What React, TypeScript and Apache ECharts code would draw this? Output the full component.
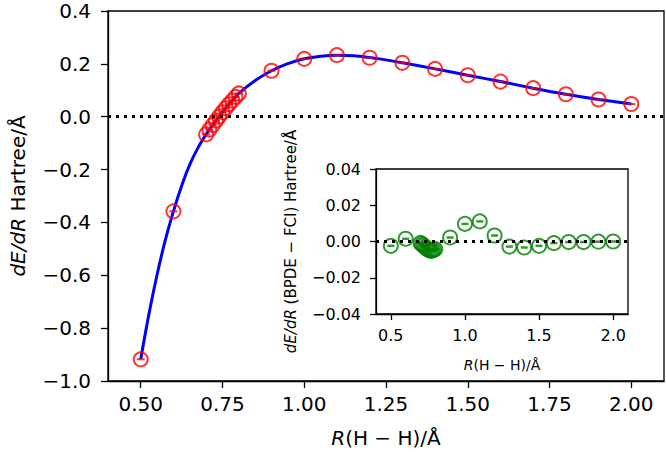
import React, { useEffect, useRef } from "react";
import * as echarts from "echarts";

// Sampled bond lengths R(H-H) / Å
const R = [0.5, 0.6, 0.7, 0.71, 0.72, 0.73, 0.74, 0.75, 0.76, 0.77, 0.78, 0.79, 0.8, 0.9, 1.0, 1.1, 1.2, 1.3, 1.4, 1.5, 1.6, 1.7, 1.8, 1.9, 2.0];
// BPDE dE/dR (Hartree/Å) – red circles
const dEdR = [-0.918, -0.358, -0.067, -0.049, -0.032, -0.015, 0.001, 0.017, 0.032, 0.047, 0.061, 0.075, 0.088, 0.174, 0.219, 0.233, 0.223, 0.204, 0.181, 0.157, 0.133, 0.108, 0.085, 0.065, 0.048];
// BPDE − FCI difference (Hartree/Å) – green circles in inset
const dEdRDiff = [-0.0024, 0.0015, -0.0008, -0.0015, -0.0022, -0.003, -0.0037, -0.0043, -0.0048, -0.0052, -0.005, -0.0046, -0.0042, 0.0022, 0.0097, 0.0111, 0.0033, -0.0028, -0.0033, -0.0024, -0.0009, -0.0003, -0.0003, -0.0001, 0.0];
// FCI reference curve (blue line)
const curveR = [0.5, 0.525, 0.55, 0.575, 0.6, 0.625, 0.65, 0.675, 0.7, 0.72, 0.74, 0.76, 0.78, 0.8, 0.85, 0.9, 0.95, 1.0, 1.05, 1.1, 1.15, 1.2, 1.25, 1.3, 1.4, 1.5, 1.6, 1.7, 1.8, 1.9, 2.0];
const curveV = [-0.918, -0.748, -0.598, -0.468, -0.358, -0.262, -0.181, -0.118, -0.067, -0.032, 0.001, 0.032, 0.061, 0.088, 0.137, 0.174, 0.201, 0.219, 0.229, 0.233, 0.231, 0.224, 0.215, 0.204, 0.181, 0.157, 0.133, 0.108, 0.085, 0.065, 0.048];

const mainXTicks = [0.5, 0.75, 1.0, 1.25, 1.5, 1.75, 2.0];
const mainYTicks = [-1.0, -0.8, -0.6, -0.4, -0.2, 0.0, 0.2, 0.4];
const insetXTicks = [0.5, 1.0, 1.5, 2.0];
const insetYTicks = [-0.04, -0.02, 0.0, 0.02, 0.04];

const FONT = "DejaVu Sans";
const fmt = (v: number, d: number) => {
  const s = Math.abs(v).toFixed(d);
  return (v < -1e-9 ? "\u2212" : "") + s;
};

export default function App() {
  const ref = useRef<HTMLDivElement>(null);
  useEffect(() => {
    if (!ref.current) return;
    const chart = echarts.init(ref.current, undefined, { renderer: "svg" });
    const axisLine = { show: true, onZero: false, lineStyle: { color: "#000", width: 1.3 } };
    const pts = (ys: number[]) => R.map((r, i) => [r, ys[i]]);
    const dotted = {
      silent: true, symbol: "none", label: { show: false },
      lineStyle: { color: "#000", type: [3, 5], width: 3, cap: "butt" },
      data: [{ yAxis: 0 }],
    };
    const option: any = {
      animation: false,
      backgroundColor: "#fff",
      grid: [
        { left: 106, top: 11, width: 558, height: 370, show: true, borderColor: "#000", borderWidth: 1.3, backgroundColor: "transparent" },
        { left: 376, top: 169, width: 252, height: 145, show: true, borderColor: "#000", borderWidth: 1.3, backgroundColor: "#fff" },
      ],
      xAxis: [
        {
          gridIndex: 0, type: "value", min: 0.4, max: 2.1,
          axisLine, splitLine: { show: false },
          axisTick: { show: true, length: 7, customValues: mainXTicks, lineStyle: { color: "#000", width: 1.3 } },
          axisLabel: { customValues: mainXTicks, formatter: (v: number) => fmt(v, 2), fontSize: 20, fontFamily: FONT, color: "#000", margin: 13 },
          name: "{i|R}(H \u2212 H)/Å", nameLocation: "middle", nameGap: 47,
          nameTextStyle: { fontSize: 20, fontFamily: FONT, color: "#000", rich: { i: { fontStyle: "italic", fontSize: 20, fontFamily: FONT, color: "#000" } } },
        },
        {
          gridIndex: 1, type: "value", min: 0.4, max: 2.1,
          axisLine, splitLine: { show: false },
          axisTick: { show: true, length: 6, customValues: insetXTicks, lineStyle: { color: "#000", width: 1.3 } },
          axisLabel: { customValues: insetXTicks, formatter: (v: number) => fmt(v, 1), fontSize: 16, fontFamily: FONT, color: "#000", margin: 13 },
          name: "{i|R}(H \u2212 H)/Å", nameLocation: "middle", nameGap: 44,
          nameTextStyle: { fontSize: 14, fontFamily: FONT, color: "#000", rich: { i: { fontStyle: "italic", fontSize: 14, fontFamily: FONT, color: "#000" } } },
        },
      ],
      yAxis: [
        {
          gridIndex: 0, type: "value", min: -1.0, max: 0.4,
          axisLine, splitLine: { show: false },
          axisTick: { show: true, length: 7, customValues: mainYTicks, lineStyle: { color: "#000", width: 1.3 } },
          axisLabel: { customValues: mainYTicks, formatter: (v: number) => fmt(v, 1), fontSize: 20, fontFamily: FONT, color: "#000", margin: 17 },
          name: "{i|dE/dR} Hartree/Å", nameLocation: "middle", nameGap: 80,
          nameTextStyle: { fontSize: 20, fontFamily: FONT, color: "#000", rich: { i: { fontStyle: "italic", fontSize: 20, fontFamily: FONT, color: "#000" } } },
        },
        {
          gridIndex: 1, type: "value", min: -0.04, max: 0.04,
          axisLine, splitLine: { show: false },
          axisTick: { show: true, length: 6, customValues: insetYTicks, lineStyle: { color: "#000", width: 1.3 } },
          axisLabel: { customValues: insetYTicks, formatter: (v: number) => fmt(v, 2), fontSize: 16, fontFamily: FONT, color: "#000", margin: 15 },
          name: "{i|dE/dR} (BPDE \u2212 FCI) Hartree/Å", nameLocation: "middle", nameGap: 78,
          nameTextStyle: { fontSize: 15, fontFamily: FONT, color: "#000", rich: { i: { fontStyle: "italic", fontSize: 15, fontFamily: FONT, color: "#000" } } },
        },
      ],
      series: [
        {
          type: "line", xAxisIndex: 0, yAxisIndex: 0,
          data: curveR.map((r, i) => [r, curveV[i]]),
          smooth: 0.3, symbol: "none",
          lineStyle: { color: "#0000ff", width: 3 },
          z: 2,
          markLine: dotted,
        },
        {
          type: "scatter", xAxisIndex: 0, yAxisIndex: 0, data: pts(dEdR),
          symbol: "circle", symbolSize: 14,
          itemStyle: { color: "rgba(0,0,0,0)", borderColor: "#ff0000", borderWidth: 2 }, z: 4,
        },
        {
          type: "scatter", xAxisIndex: 0, yAxisIndex: 0, data: pts(dEdR),
          symbol: "rect", symbolSize: [8, 2],
          itemStyle: { color: "#ff0000" }, z: 4,
        },
        {
          type: "scatter", xAxisIndex: 1, yAxisIndex: 1, data: pts(dEdRDiff),
          symbol: "circle", symbolSize: 14,
          itemStyle: { color: "rgba(0,0,0,0)", borderColor: "#008000", borderWidth: 2 }, z: 4,
          markLine: dotted,
        },
        {
          type: "scatter", xAxisIndex: 1, yAxisIndex: 1, data: pts(dEdRDiff),
          symbol: "rect", symbolSize: [7, 2.5],
          itemStyle: { color: "#008000" }, z: 4,
        },
      ],
    };
    chart.setOption(option);
    return () => chart.dispose();
  }, []);
  return <div ref={ref} style={{ position: "fixed", left: 0, top: 0, width: 666, height: 453 }} />;
}
